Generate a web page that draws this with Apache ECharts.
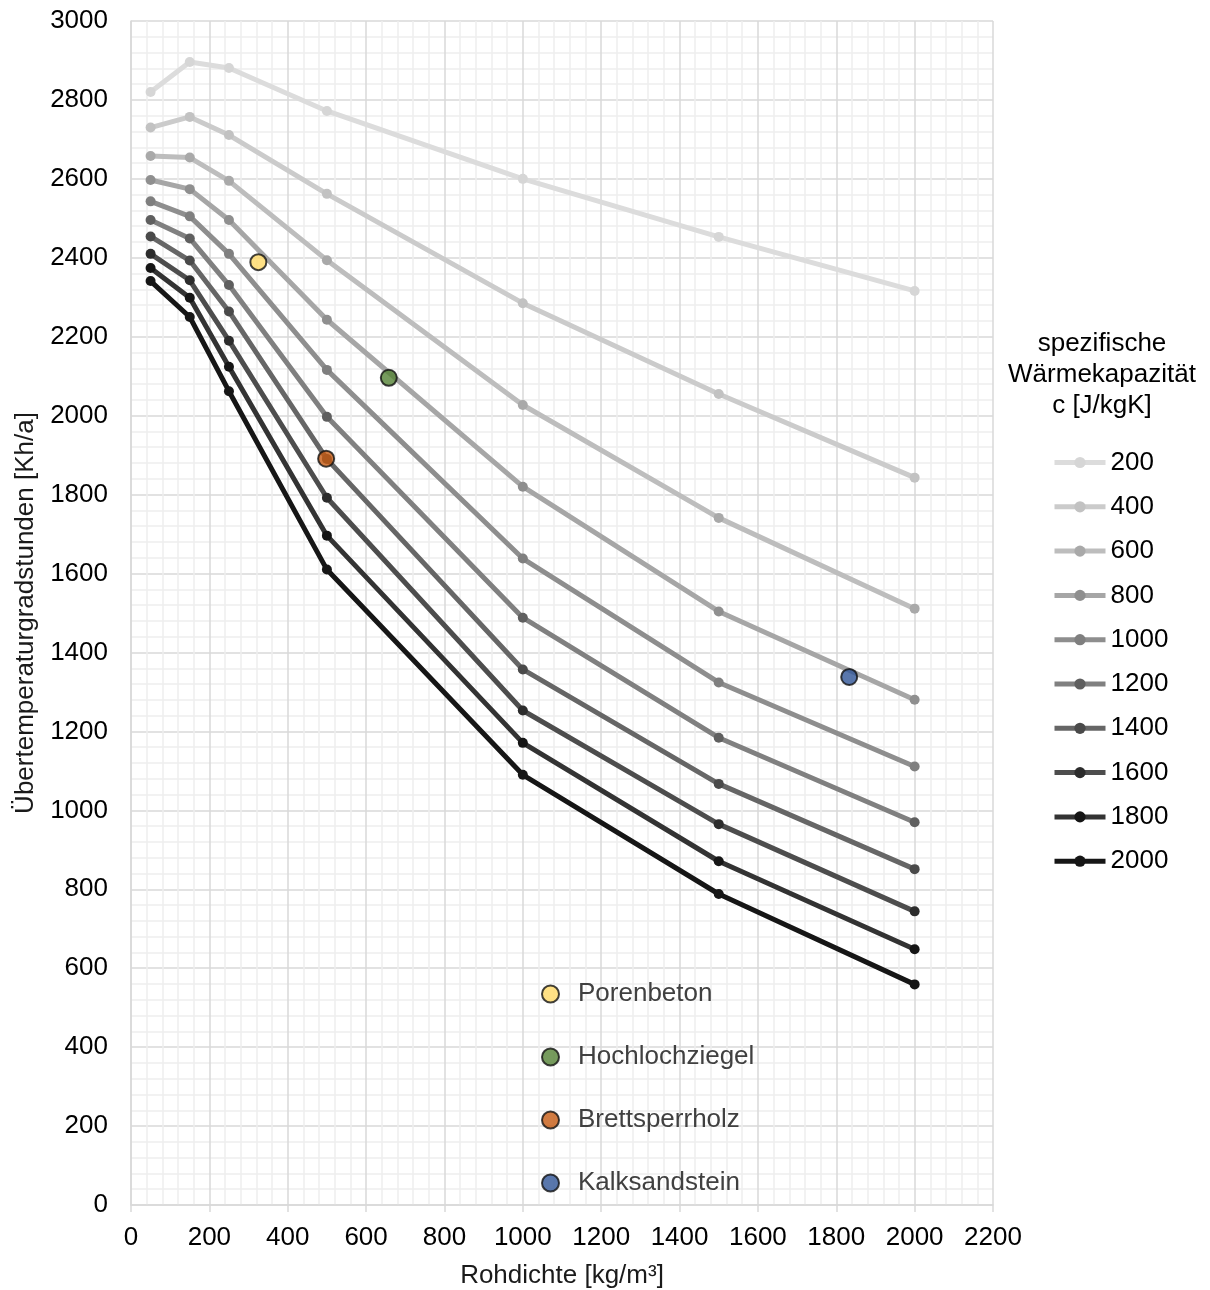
<!DOCTYPE html>
<html>
<head>
<meta charset="utf-8">
<script src="https://cdn.jsdelivr.net/npm/echarts@6/dist/echarts.min.js"></script>
<style>
  html, body { margin: 0; padding: 0; background: #fff; }
  #chart { width: 1210px; height: 1290px; }
</style>
</head>
<body>
<div id="chart"></div>
<script>
// Rohdichte-Stützstellen [kg/m³]
const densities = [50, 150, 250, 500, 1000, 1500, 2000];

// Spezifische Wärmekapazität c [J/kgK] – eine Kurve je Wert
const capacities = ['200', '400', '600', '800', '1000', '1200', '1400', '1600', '1800', '2000'];

// Übertemperaturgradstunden [Kh/a] je Kurve
const c200  = [2820, 2896, 2881, 2772, 2600, 2453, 2316];
const c400  = [2730, 2757, 2711, 2562, 2285, 2055, 1843];
const c600  = [2658, 2654, 2595, 2394, 2027, 1741, 1511];
const c800  = [2597, 2574, 2496, 2243, 1820, 1504, 1280];
const c1000 = [2543, 2505, 2410, 2116, 1638, 1324, 1111];
const c1200 = [2496, 2449, 2331, 1997, 1488, 1184, 970];
const c1400 = [2454, 2393, 2264, 1890, 1357, 1067, 851];
const c1600 = [2410, 2343, 2190, 1792, 1253, 965, 744];
const c1800 = [2374, 2299, 2124, 1696, 1171, 871, 648];
const c2000 = [2341, 2250, 2062, 1610, 1090, 788, 559];
const curves = [c200, c400, c600, c800, c1000, c1200, c1400, c1600, c1800, c2000];

// Graustufen: Linie heller, Marker etwas dunkler
const lineColors   = ['#dcdcdc', '#cbcbcb', '#bdbdbd', '#a6a6a6', '#8e8e8e', '#808080', '#666666', '#4d4d4d', '#333333', '#161616'];
const markerColors = ['#d6d6d6', '#c2c2c2', '#a9a9a9', '#8f8f8f', '#7f7f7f', '#5f5f5f', '#4a4a4a', '#2c2c2c', '#151515', '#161616'];

// Baustoffe: Rohdichte, Übertemperaturgradstunden, Farbe
const materials      = ['Porenbeton', 'Hochlochziegel', 'Brettsperrholz', 'Kalksandstein'];
const materialX      = [325, 658, 498, 1833];
const materialY      = [2389, 2096, 1891, 1338];
const materialColors = ['#ffd966', '#548235', '#c55a11', '#2f5597'];

const FONT = 'Liberation Sans, Arial, sans-serif';
const FS = 26;

const series = [];
curves.forEach((vals, i) => {
  series.push({
    name: capacities[i],
    type: 'line',
    data: densities.map((d, k) => [d, vals[k]]),
    symbol: 'circle',
    symbolSize: 10,
    showSymbol: true,
    lineStyle: { width: 5, color: lineColors[i] },
    itemStyle: { color: markerColors[i] },
    emphasis: { disabled: true },
    z: 2 + i
  });
});
materials.forEach((m, i) => {
  series.push({
    name: m,
    type: 'scatter',
    data: [[materialX[i], materialY[i]]],
    symbol: 'circle',
    symbolSize: 16,
    itemStyle: { color: materialColors[i], borderColor: '#111', borderWidth: 2 },
    emphasis: { disabled: true },
    z: 20
  });
});

const plain = v => String(v);

const chart = echarts.init(document.getElementById('chart'), null, { renderer: 'canvas' });
chart.setOption({
  animation: false,
  backgroundColor: '#ffffff',
  textStyle: { fontFamily: FONT },
  grid: { left: 131, right: 217, top: 21, bottom: 85, containLabel: false, outerBoundsMode: 'none' },
  xAxis: {
    type: 'value',
    min: 0, max: 2200, interval: 200,
    name: 'Rohdichte [kg/m³]',
    nameLocation: 'middle',
    nameGap: 58,
    nameTextStyle: { fontSize: FS, color: '#1a1a1a', fontFamily: FONT },
    axisLine: { show: true, lineStyle: { color: '#d9d9d9', width: 1.5 } },
    axisTick: { show: true, length: 7, lineStyle: { color: '#d9d9d9', width: 1.5 } },
    axisLabel: { fontSize: FS, color: '#000', margin: 20, fontFamily: FONT, formatter: plain },
    splitLine: { show: true, lineStyle: { color: '#d9d9d9', width: 1.5 } },
    minorTick: { show: false, splitNumber: 5 },
    minorSplitLine: { show: true, lineStyle: { color: '#eeeeee', width: 1.5 } }
  },
  yAxis: {
    type: 'value',
    min: 0, max: 3000, interval: 200,
    name: 'Übertemperaturgradstunden [Kh/a]',
    nameLocation: 'middle',
    nameGap: 86,
    nameTextStyle: { fontSize: FS, color: '#1a1a1a', fontFamily: FONT },
    axisLine: { show: true, lineStyle: { color: '#d9d9d9', width: 1.5 } },
    axisTick: { show: false },
    axisLabel: { fontSize: FS, color: '#000', margin: 23, fontFamily: FONT, formatter: plain },
    splitLine: { show: true, lineStyle: { color: '#d9d9d9', width: 1.5 } },
    minorTick: { show: false, splitNumber: 5 },
    minorSplitLine: { show: true, lineStyle: { color: '#eeeeee', width: 1.5 } }
  },
  graphic: [{
    type: 'text',
    x: 1102, y: 328,
    style: {
      text: 'spezifische\nWärmekapazität\nc [J/kgK]',
      fontSize: FS,
      lineHeight: 31,
      fontFamily: FONT,
      fill: '#000',
      align: 'center',
      verticalAlign: 'top'
    }
  }],
  legend: [{
    data: capacities,
    orient: 'vertical',
    left: 1052, top: 449.5,
    padding: 0,
    itemWidth: 51, itemHeight: 14,
    itemGap: 18.3,
    lineStyle: { width: 5 },
    textStyle: { fontSize: FS, color: '#000', fontFamily: FONT, padding: 0 },
    selectedMode: false
  }, {
    data: materials,
    orient: 'vertical',
    left: 541, top: 981,
    padding: 0,
    itemWidth: 17, itemHeight: 17,
    itemGap: 37,
    icon: 'circle',
    textStyle: { fontSize: FS, color: '#404040', fontFamily: FONT, padding: [0, 0, 0, 14] },
    selectedMode: false
  }],
  series: series
});
</script>
</body>
</html>
